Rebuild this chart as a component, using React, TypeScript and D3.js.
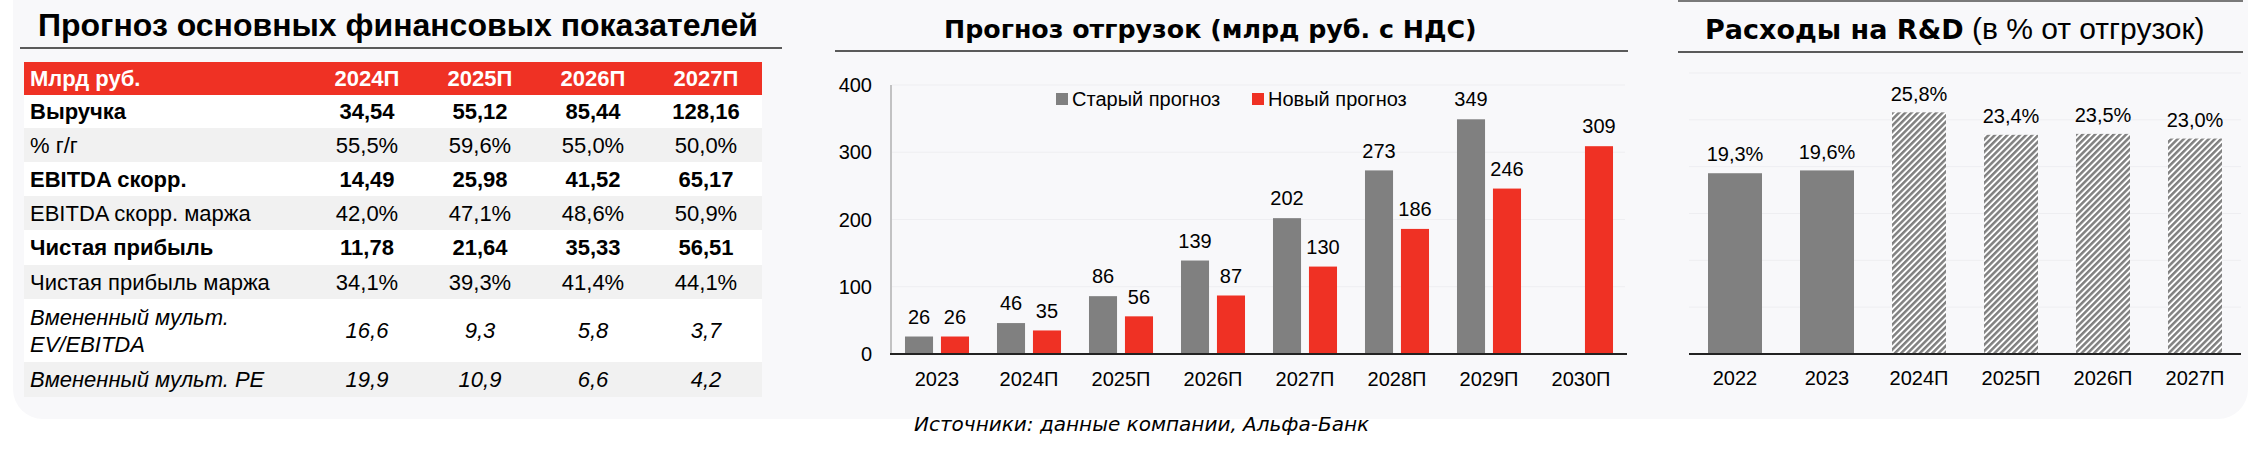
import React from "react";
import * as d3 from "d3";

// ---------- DATA ----------
const tableTitle = "Прогноз основных финансовых показателей";
const tableHeaderLabel = "Млрд руб.";
const tableYears = ["2024П", "2025П", "2026П", "2027П"];
const rowLabels = [
  "Выручка",
  "% г/г",
  "EBITDA скорр.",
  "EBITDA скорр. маржа",
  "Чистая прибыль",
  "Чистая прибыль маржа",
  "Вмененный мульт.\nEV/EBITDA",
  "Вмененный мульт. PE",
];
const revenue = ["34,54", "55,12", "85,44", "128,16"];
const revenueGrowth = ["55,5%", "59,6%", "55,0%", "50,0%"];
const ebitda = ["14,49", "25,98", "41,52", "65,17"];
const ebitdaMargin = ["42,0%", "47,1%", "48,6%", "50,9%"];
const netIncome = ["11,78", "21,64", "35,33", "56,51"];
const netMargin = ["34,1%", "39,3%", "41,4%", "44,1%"];
const evEbitda = ["16,6", "9,3", "5,8", "3,7"];
const peMult = ["19,9", "10,9", "6,6", "4,2"];
const rowValues = [revenue, revenueGrowth, ebitda, ebitdaMargin, netIncome, netMargin, evEbitda, peMult];
const rowKinds = ["bold", "normal", "bold", "normal", "bold", "normal", "italic", "italic"];

const shipTitle = "Прогноз отгрузок (млрд руб. с НДС)";
const shipYears = ["2023", "2024П", "2025П", "2026П", "2027П", "2028П", "2029П", "2030П"];
const oldForecast: (number | null)[] = [26, 46, 86, 139, 202, 273, 349, null];
const newForecast: (number | null)[] = [26, 35, 56, 87, 130, 186, 246, 309];
const shipTicks = [0, 100, 200, 300, 400];
const seriesNames = ["Старый прогноз", "Новый прогноз"];

const rdTitleBold = "Расходы на R&D";
const rdTitleRest = " (в % от отгрузок)";
const rdYears = ["2022", "2023", "2024П", "2025П", "2026П", "2027П"];
const rdValues = [19.3, 19.6, 25.8, 23.4, 23.5, 23.0];
const rdIsForecast = [false, false, true, true, true, true];
const rdGrid = [5, 10, 15, 20, 25, 30];

const sourceText = "Источники: данные компании, Альфа-Банк";

// ---------- STYLE ----------
const RED = "#ef3124";
const GRAY = "#808080";
const PANEL = "#f8f8fa";
const SANS = "'Liberation Sans', Arial, sans-serif";
const VERD = "'DejaVu Sans', Verdana, sans-serif";

const fmtComma = (v: number, d: number) => v.toFixed(d).replace(".", ",");

export default function App() {
  // table layout
  const tX0 = 24, tX1 = 762;
  const headerTop = 62, headerH = 33;
  const rowHeights = [33, 34, 34, 34, 35, 34, 63, 35];
  const colScale = d3.scalePoint<string>().domain(tableYears).range([367, 706]);
  const rowTops: number[] = [];
  let acc = headerTop + headerH;
  rowHeights.forEach((h) => { rowTops.push(acc); acc += h; });
  const tfs = 22;

  // ship chart
  const xShip = d3.scaleBand<string>().domain(shipYears).range([891, 1627]).paddingInner(0.304).paddingOuter(0.152);
  const xInner = d3.scaleBand<string>().domain(["old", "new"]).range([0, xShip.bandwidth()]).paddingInner(0.22);
  const yShip = d3.scaleLinear().domain([0, 400]).range([354, 85]);

  // R&D chart
  const xRd = d3.scaleBand<string>().domain(rdYears).range([1689, 2241]).paddingInner(0.413).paddingOuter(0.2065);
  const yRd = d3.scaleLinear().domain([0, 30]).range([354, 73]);

  const fs = 20;

  return (
    <svg width={2260} height={465} style={{ position: "absolute", left: 0, top: 0, background: "#ffffff" }} xmlns="http://www.w3.org/2000/svg">
      <defs>
        <pattern id="hatch" patternUnits="userSpaceOnUse" width={4.4} height={4.4} patternTransform="rotate(45)">
          <rect width={4.4} height={4.4} fill="#ffffff" />
          <rect width={2.5} height={4.4} fill={GRAY} />
        </pattern>
      </defs>
      <rect x={0} y={0} width={2260} height={465} fill="#ffffff" />
      <rect x={13} y={-40} width={2235} height={459} rx={30} fill={PANEL} />

      {/* ---------- TABLE ---------- */}
      <text x={38} y={36} fontFamily={SANS} fontWeight="bold" fontSize={32} fill="#000">{tableTitle}</text>
      <line x1={20} x2={782} y1={48} y2={48} stroke="#5a5a5a" strokeWidth={2} />
      <rect x={tX0} y={headerTop} width={tX1 - tX0} height={headerH} fill={RED} />
      <text x={30} y={headerTop + headerH / 2} dy="0.36em" fontFamily={SANS} fontWeight="bold" fontSize={tfs} fill="#fff">{tableHeaderLabel}</text>
      {tableYears.map((y) => (
        <text key={y} x={colScale(y)} y={headerTop + headerH / 2} dy="0.36em" textAnchor="middle" fontFamily={SANS} fontWeight="bold" fontSize={tfs} fill="#fff">{y}</text>
      ))}
      {rowLabels.map((lab, i) => {
        const top = rowTops[i];
        const h = rowHeights[i];
        const cy = top + h / 2;
        const kind = rowKinds[i];
        const fw = kind === "bold" ? "bold" : "normal";
        const fst = kind === "italic" ? "italic" : "normal";
        const lines = lab.split("\n");
        return (
          <g key={lab}>
            <rect x={tX0} y={top} width={tX1 - tX0} height={h} fill={i % 2 === 0 ? "#ffffff" : "#f1f1f1"} />
            {lines.map((ln, k) => (
              <text key={k} x={30} y={cy + (k - (lines.length - 1) / 2) * 27} dy="0.36em" fontFamily={SANS} fontWeight={fw} fontStyle={fst} fontSize={tfs} fill="#000">{ln}</text>
            ))}
            {rowValues[i].map((v, j) => (
              <text key={j} x={colScale(tableYears[j])} y={cy} dy="0.36em" textAnchor="middle" fontFamily={SANS} fontWeight={fw} fontStyle={fst} fontSize={tfs} fill="#000">{v}</text>
            ))}
          </g>
        );
      })}

      {/* ---------- SHIPMENTS ---------- */}
      <text x={944} y={38} fontFamily={VERD} fontWeight="bold" fontSize={25.3} fill="#000">{shipTitle}</text>
      <line x1={835} x2={1628} y1={51} y2={51} stroke="#5a5a5a" strokeWidth={2} />
      {shipTicks.map((t) => (
        <g key={t}>
          {t > 0 && <line x1={892} x2={1625} y1={yShip(t)} y2={yShip(t)} stroke="#eeeef1" strokeWidth={1} />}
          <text x={872} y={yShip(t)} dy="0.36em" textAnchor="end" fontFamily={SANS} fontSize={fs} fill="#000">{t}</text>
        </g>
      ))}
      <line x1={891} x2={891} y1={yShip(400)} y2={yShip(0)} stroke="#8c8c8c" strokeWidth={1} />
      {shipYears.map((yr, i) => {
        const gx = xShip(yr)!;
        const bars = [
          { key: "old", v: oldForecast[i], c: GRAY },
          { key: "new", v: newForecast[i], c: RED },
        ];
        return (
          <g key={yr}>
            {bars.map((b) =>
              b.v == null ? null : (
                <g key={b.key}>
                  <rect x={gx + xInner(b.key)!} y={yShip(b.v)} width={xInner.bandwidth()} height={yShip(0) - yShip(b.v)} fill={b.c} />
                  <text x={gx + xInner(b.key)! + xInner.bandwidth() / 2} y={yShip(b.v) - 20} dy="0.36em" textAnchor="middle" fontFamily={SANS} fontSize={fs} fill="#000">{b.v}</text>
                </g>
              )
            )}
            <text x={gx + xShip.bandwidth() / 2} y={379} dy="0.36em" textAnchor="middle" fontFamily={SANS} fontSize={fs} fill="#000">{yr}</text>
          </g>
        );
      })}
      <line x1={890} x2={1627} y1={354} y2={354} stroke="#222" strokeWidth={2} />
      {/* legend */}
      <rect x={1056} y={93} width={12} height={12} fill={GRAY} />
      <text x={1072} y={99} dy="0.36em" fontFamily={SANS} fontSize={fs} fill="#000">{seriesNames[0]}</text>
      <rect x={1252} y={93} width={12} height={12} fill={RED} />
      <text x={1268} y={99} dy="0.36em" fontFamily={SANS} fontSize={fs} fill="#000">{seriesNames[1]}</text>

      {/* ---------- R&D ---------- */}
      <line x1={1678} x2={2243} y1={1} y2={1} stroke="#7a7a7a" strokeWidth={2} />
      <text x={1705} y={39} fill="#000">
        <tspan fontFamily={VERD} fontWeight="bold" fontSize={27}>{rdTitleBold}</tspan>
        <tspan fontFamily={SANS} fontSize={30}>{rdTitleRest}</tspan>
      </text>
      <line x1={1678} x2={2243} y1={52} y2={52} stroke="#5a5a5a" strokeWidth={2} />
      {rdGrid.map((g) => (
        <line key={g} x1={1689} x2={2241} y1={yRd(g)} y2={yRd(g)} stroke="#eeeef1" strokeWidth={1} />
      ))}
      {rdYears.map((yr, i) => {
        const x = xRd(yr)!;
        const v = rdValues[i];
        return (
          <g key={yr}>
            <rect x={x} y={yRd(v)} width={xRd.bandwidth()} height={yRd(0) - yRd(v)} fill={rdIsForecast[i] ? "url(#hatch)" : GRAY} />
            <text x={x + xRd.bandwidth() / 2} y={yRd(v) - 19} dy="0.36em" textAnchor="middle" fontFamily={SANS} fontSize={fs} fill="#000">{fmtComma(v, 1) + "%"}</text>
            <text x={x + xRd.bandwidth() / 2} y={378} dy="0.36em" textAnchor="middle" fontFamily={SANS} fontSize={fs} fill="#000">{yr}</text>
          </g>
        );
      })}
      <line x1={1689} x2={2241} y1={354} y2={354} stroke="#222" strokeWidth={2} />

      {/* ---------- SOURCE ---------- */}
      <text x={914} y={424} dy="0.36em" fontFamily={VERD} fontStyle="italic" fontSize={20} fill="#000">{sourceText}</text>
    </svg>
  );
}
